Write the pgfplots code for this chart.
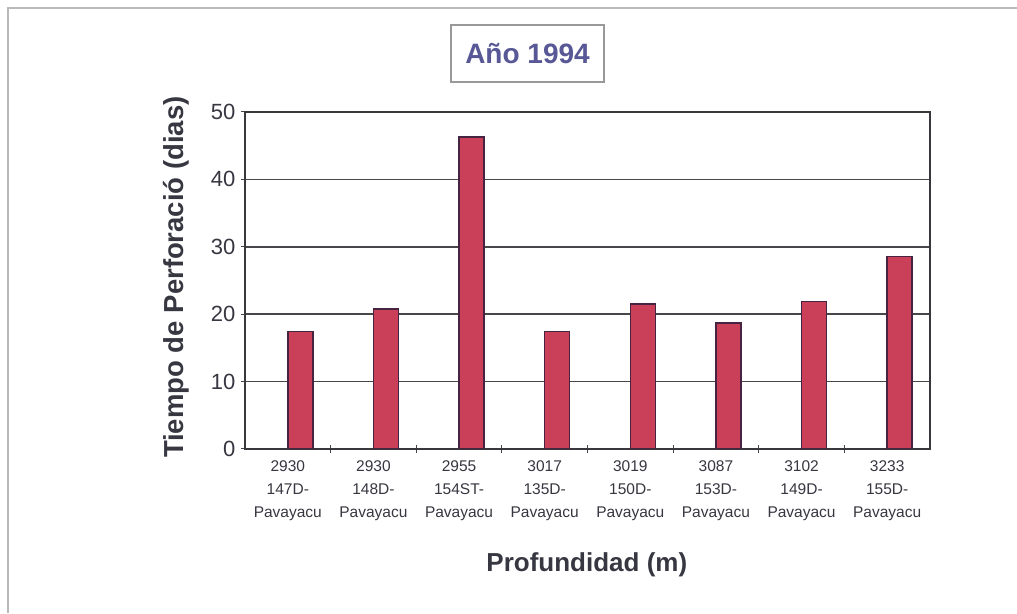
\documentclass[border=0pt]{standalone}
\usepackage{fontspec}
\setmainfont{Liberation Sans}
\usepackage{pgfplots}
\pgfplotsset{compat=1.18}
\definecolor{barfill}{RGB}{201,64,88}
\definecolor{baredge}{RGB}{70,35,65}
\definecolor{txt}{RGB}{55,55,65}
\definecolor{titletxt}{RGB}{88,88,150}
\definecolor{gridc}{RGB}{70,70,75}
\begin{document}
\begin{tikzpicture}[x=1pt,y=1pt]
\useasboundingbox (0,0) rectangle (1017,613);
\fill[white] (0,0) rectangle (1017,613);
\draw[gray!55,line width=1.5pt] (8,0) -- (8,605) -- (1017,605);
\node[draw=gray!80,line width=1.5pt,fill=white,minimum width=153pt,minimum height=57pt,inner sep=0pt,text=titletxt,font=\fontsize{28}{32}\selectfont\bfseries] at (527.5,559.5) {Año 1994};
\begin{axis}[
  at={(245pt,164pt)}, anchor=south west,
  width=685pt, height=337pt, scale only axis,
  ybar, bar width=25pt, bar shift=12.5pt,
  xmin=-0.5, xmax=7.5, ymin=0, ymax=50,
  ytick={0,10,...,50},
  xtick={0,...,7},
  xticklabels={{2930\\147D-\\Pavayacu},{2930\\148D-\\Pavayacu},{2955\\154ST-\\Pavayacu},{3017\\135D-\\Pavayacu},{3019\\150D-\\Pavayacu},{3087\\153D-\\Pavayacu},{3102\\149D-\\Pavayacu},{3233\\155D-\\Pavayacu}},
  xticklabel style={align=center,font=\fontsize{15.5}{23}\selectfont,text=txt},
  yticklabel style={font=\fontsize{22}{24}\selectfont,text=txt},
  /pgf/number format/assume math mode=true,
  major x tick style={draw=none},
  minor xtick={0.5,1.5,...,6.5},
  minor tick length=8pt,
  major tick length=8pt,
  tick align=center,
  tick style={gridc,line width=1pt},
  ymajorgrids, grid style={gridc,line width=1.5pt},
  axis line style={gridc!80!black,line width=2pt},
  xtick pos=bottom, ytick pos=left,
  xticklabel shift=4pt, yticklabel shift=2pt,
  xlabel={Profundidad (m)},
  ylabel={Tiempo de Perforació (dias)},
  xlabel style={font=\fontsize{26}{30}\selectfont\bfseries,text=txt,at={(axis description cs:0.499,-0.344)},anchor=center},
  ylabel style={font=\fontsize{27.5}{30}\selectfont\bfseries,text=txt,at={(axis description cs:-0.101,0.51)},anchor=center},
]
\addplot[fill=barfill,draw=baredge,line width=1.4pt] coordinates {
(0,17.4) (1,20.8) (2,46.3) (3,17.4) (4,21.5) (5,18.7) (6,21.9) (7,28.6)};
\end{axis}
\end{tikzpicture}
\end{document}
